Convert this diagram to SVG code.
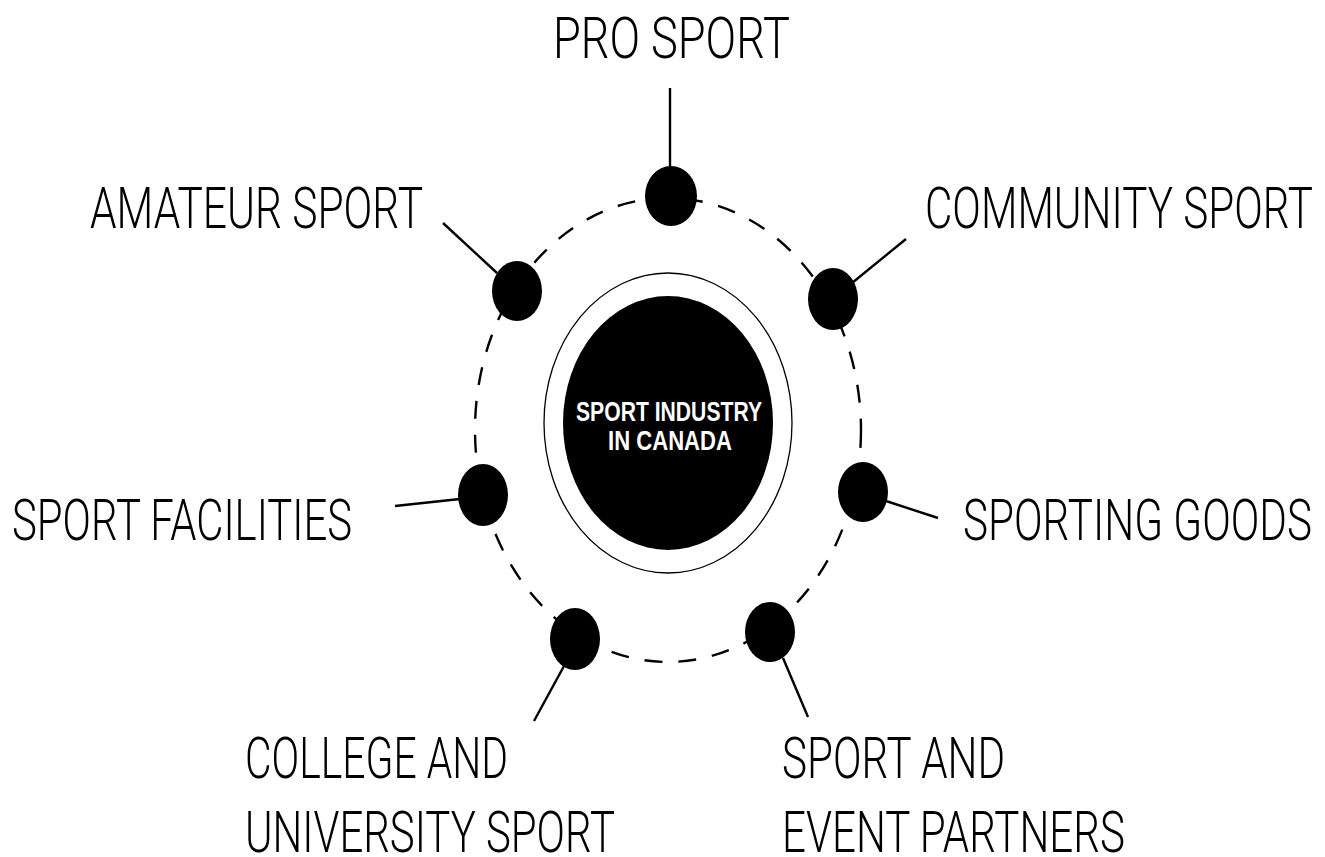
<svg xmlns="http://www.w3.org/2000/svg" width="1325" height="857" viewBox="0 0 1325 857">
  <style>
    .label { font-family: Roboto, "Liberation Sans", Arial, sans-serif; font-weight: 300; font-size: 57px; fill: #000; }
    .hub-text { font-family: "Liberation Sans", Arial, sans-serif; font-size: 27px; font-weight: bold; fill: #fff; }
    .dot { fill: #000; }
    .link { stroke: #000; stroke-width: 2.4; fill: none; stroke-linecap: butt; }
    .orbit { stroke: #000; stroke-width: 2.4; fill: none; stroke-dasharray: 18 16; }
  </style>
  <rect x="0" y="0" width="1325" height="857" fill="#fff"/>

  <!-- orbit and spokes -->
  <g id="connectors">
    <ellipse class="orbit" cx="668" cy="430" rx="193" ry="232"/>
    <line class="link" x1="670" y1="88" x2="670" y2="168"/>
    <line class="link" x1="443" y1="223" x2="497" y2="273"/>
    <line class="link" x1="906" y1="239" x2="852" y2="283"/>
    <line class="link" x1="395" y1="506" x2="460" y2="499"/>
    <line class="link" x1="886" y1="501" x2="938" y2="518"/>
    <line class="link" x1="564" y1="666" x2="534" y2="721"/>
    <line class="link" x1="783" y1="658" x2="808" y2="717"/>
  </g>

  <!-- central hub -->
  <g id="hub">
    <ellipse cx="668" cy="423" rx="124" ry="150" fill="none" stroke="#000" stroke-width="1.3"/>
    <ellipse cx="668" cy="423" rx="105" ry="127" fill="#000"/>
    <text class="hub-text" x="576" y="421" textLength="186" lengthAdjust="spacingAndGlyphs">SPORT INDUSTRY</text>
    <text class="hub-text" x="608" y="450" textLength="124" lengthAdjust="spacingAndGlyphs">IN CANADA</text>
  </g>

  <g id="pro-sport">
    <ellipse class="dot" cx="671" cy="196" rx="26" ry="30"/>
    <text class="label" x="553" y="58" font-size="60" textLength="237" lengthAdjust="spacingAndGlyphs">PRO SPORT</text>
  </g>

  <g id="community-sport">
    <ellipse class="dot" cx="833" cy="299" rx="25" ry="31"/>
    <text class="label" x="925" y="228" textLength="388" lengthAdjust="spacingAndGlyphs">COMMUNITY SPORT</text>
  </g>

  <g id="sporting-goods">
    <ellipse class="dot" cx="863" cy="492" rx="25" ry="30"/>
    <text class="label" x="963" y="540" textLength="349" lengthAdjust="spacingAndGlyphs">SPORTING GOODS</text>
  </g>

  <g id="event-partners">
    <ellipse class="dot" cx="770" cy="632" rx="25" ry="30"/>
    <text class="label" x="782" y="778" textLength="223" lengthAdjust="spacingAndGlyphs">SPORT AND</text>
    <text class="label" x="782" y="852" textLength="343" lengthAdjust="spacingAndGlyphs">EVENT PARTNERS</text>
  </g>

  <g id="college-university">
    <ellipse class="dot" cx="575" cy="639" rx="25" ry="31"/>
    <text class="label" x="245" y="778" textLength="263" lengthAdjust="spacingAndGlyphs">COLLEGE AND</text>
    <text class="label" x="245" y="852" textLength="370" lengthAdjust="spacingAndGlyphs">UNIVERSITY SPORT</text>
  </g>

  <g id="sport-facilities">
    <ellipse class="dot" cx="483" cy="495" rx="25" ry="31"/>
    <text class="label" x="12" y="540" textLength="340" lengthAdjust="spacingAndGlyphs">SPORT FACILITIES</text>
  </g>

  <g id="amateur-sport">
    <ellipse class="dot" cx="517" cy="291" rx="25" ry="30"/>
    <text class="label" x="90" y="228" textLength="333" lengthAdjust="spacingAndGlyphs">AMATEUR SPORT</text>
  </g>
</svg>
